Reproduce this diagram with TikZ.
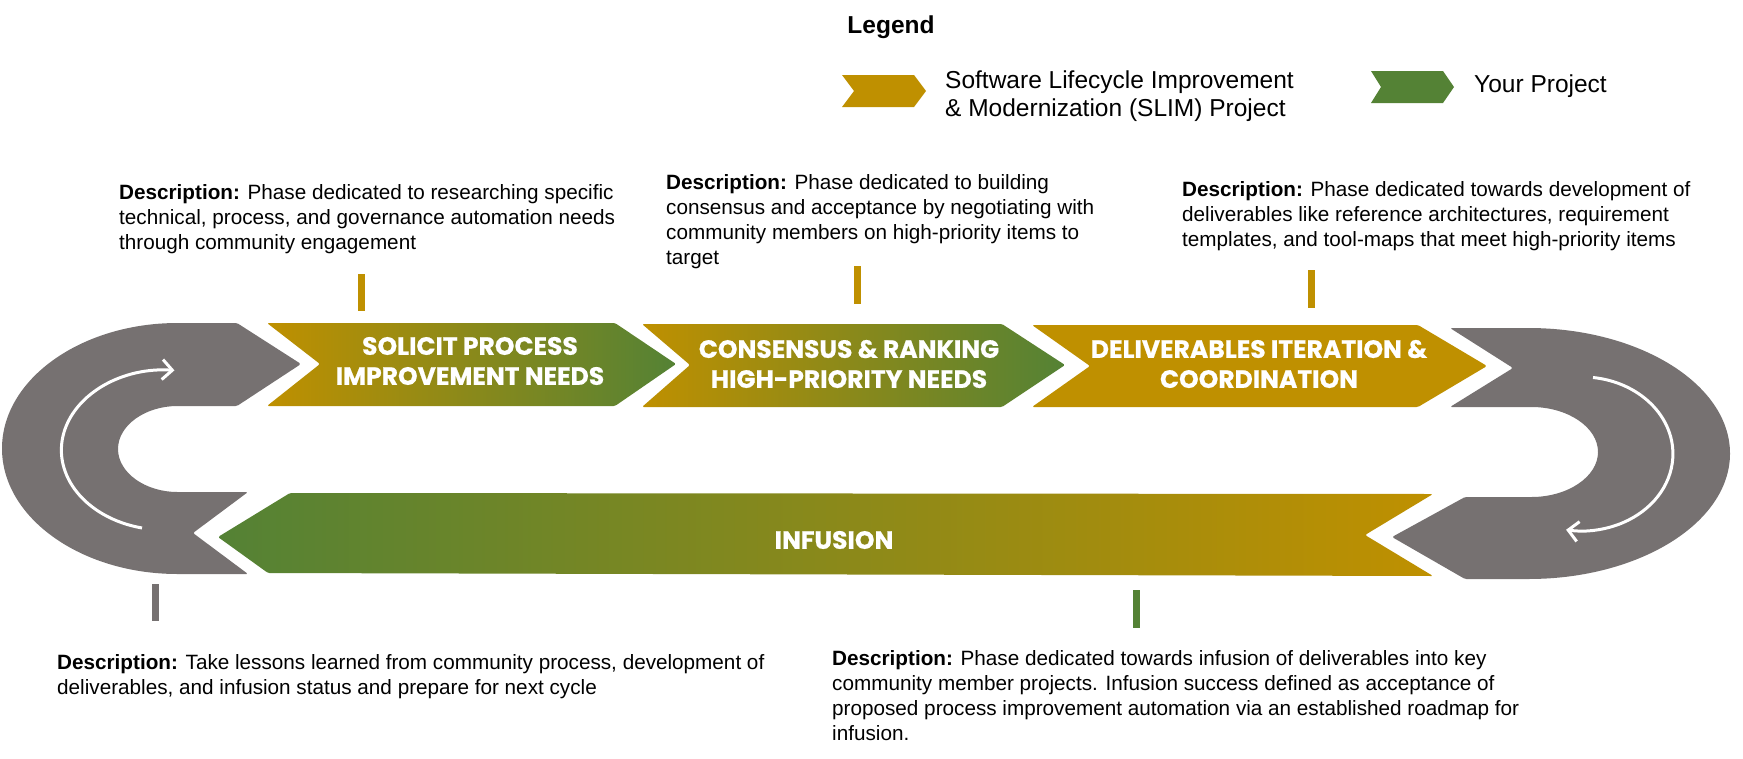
\documentclass[tikz,border=0pt]{standalone}
\usepackage{fontspec}
\setmainfont{Liberation Sans}
\newfontfamily\pop[BoldFeatures={FakeBold=0.6}]{Poppins}
\usetikzlibrary{arrows.meta}
\definecolor{gold}{HTML}{BF9000}
\definecolor{grn}{HTML}{548235}
\definecolor{gry}{HTML}{767171}
\begin{document}
\begin{tikzpicture}[x=1pt,y=-1pt,
  desc/.style={anchor=north west, inner sep=0pt, align=left, font=\fontsize{20.7}{25}\selectfont},
  phase/.style={text=white, align=center, inner sep=0pt, font=\pop\bfseries\fontsize{25}{30}\selectfont},
  tickmark/.style={line width=7pt},
  looparrow/.style={draw=white, line width=3pt, -{Straight Barb[length=10pt,width=20pt]}},
  legtext/.style={inner sep=0pt, font=\fontsize{24.5}{28}\selectfont},
]
\useasboundingbox (0,0) rectangle (1743,758);

% left loop
\fill[gry, rounded corners=1.5pt] (301,364) -- (237,406) -- (179,406)
  arc[start angle=-90, end angle=-270, x radius=61, y radius=43]
  -- (248,492) -- (193,533) -- (248,574) -- (179,574)
  arc[start angle=90, end angle=270, x radius=177, y radius=125.5]
  -- (237,323) -- cycle;
% right loop
\fill[gry, rounded corners=1.5pt] (1450,328) -- (1527,328)
  arc[start angle=-90, end angle=90, x radius=203, y radius=125.5]
  -- (1465,579) -- (1392,537) -- (1465,497) -- (1530,497)
  arc[start angle=90, end angle=-90, x radius=68, y radius=45]
  -- (1450,407) -- (1513,368) -- cycle;
\draw[looparrow] (142,528) arc[start angle=103, end angle=275, x radius=104, y radius=80];
\draw[looparrow] (1593,377.5) arc[start angle=-83, end angle=100, x radius=91, y radius=77];

% chevrons
\shade[left color=gold, right color=grn, rounded corners=1.5pt] (267,323) -- (615,323) -- (676,364) -- (615,406) -- (267,406) -- (320,364) -- cycle;
\shade[left color=gold, right color=grn, rounded corners=1.5pt] (642,324) -- (1002,324) -- (1065,365) -- (1002,407) -- (642,407) -- (690,365) -- cycle;
\fill[gold, rounded corners=1.5pt] (1032,325) -- (1418,325) -- (1487,366) -- (1418,407) -- (1032,407) -- (1090,366) -- cycle;
\shade[left color=grn, right color=gold, rounded corners=1.5pt] (218,537) -- (290,493) -- (1433,494) -- (1365,535) -- (1433,576) -- (268,573) -- cycle;

\node[phase] (p1) at (470,361) {SOLICIT PROCESS\\IMPROVEMENT NEEDS};
\node[phase] (p2) at (849,364) {CONSENSUS \& RANKING\\HIGH-PRIORITY NEEDS};
\node[phase] (p3) at (1259,364) {DELIVERABLES ITERATION \&\\COORDINATION};
\node[phase] (p4) at (834,540) {INFUSION};

% ticks
\draw[tickmark, gold] (361,274) -- (361,311);
\draw[tickmark, gold] (857,266) -- (857,304);
\draw[tickmark, gold] (1311,270) -- (1311,308);
\draw[tickmark, gry] (155,584) -- (155,621);
\draw[tickmark, grn] (1136,590) -- (1136,628);

% descriptions
\node[desc] (d1) at (119,184) {\textbf{Description:} Phase dedicated to researching specific\\technical, process, and governance automation needs\\through community engagement};
\node[desc] (d2) at (666,174) {\textbf{Description:} Phase dedicated to building\\consensus and acceptance by negotiating with\\community members on high-priority items to\\target};
\node[desc] (d3) at (1182,181) {\textbf{Description:} Phase dedicated towards development of\\deliverables like reference architectures, requirement\\templates, and tool-maps that meet high-priority items};
\node[desc] (d4) at (57,654) {\textbf{Description:} Take lessons learned from community process, development of\\deliverables, and infusion status and prepare for next cycle};
\node[desc] (d5) at (832,650) {\textbf{Description:} Phase dedicated towards infusion of deliverables into key\\community member projects. Infusion success defined as acceptance of\\proposed process improvement automation via an established roadmap for\\infusion.};

% legend
\node[legtext, font=\bfseries\fontsize{24.5}{28}\selectfont] (leg) at (891,27) {Legend};
\fill[gold] (842,75) -- (914,75) -- (926,91) -- (914,107) -- (842,107) -- (854,91) -- cycle;
\node[legtext, anchor=north west, align=left] (slim) at (945,71) {Software Lifecycle Improvement\\\& Modernization (SLIM) Project};
\fill[grn] (1371,71) -- (1443,71) -- (1454,87) -- (1443,103) -- (1371,103) -- (1381,87) -- cycle;
\node[legtext, anchor=west] (yp) at (1474,86) {Your Project};
\end{tikzpicture}
\end{document}
